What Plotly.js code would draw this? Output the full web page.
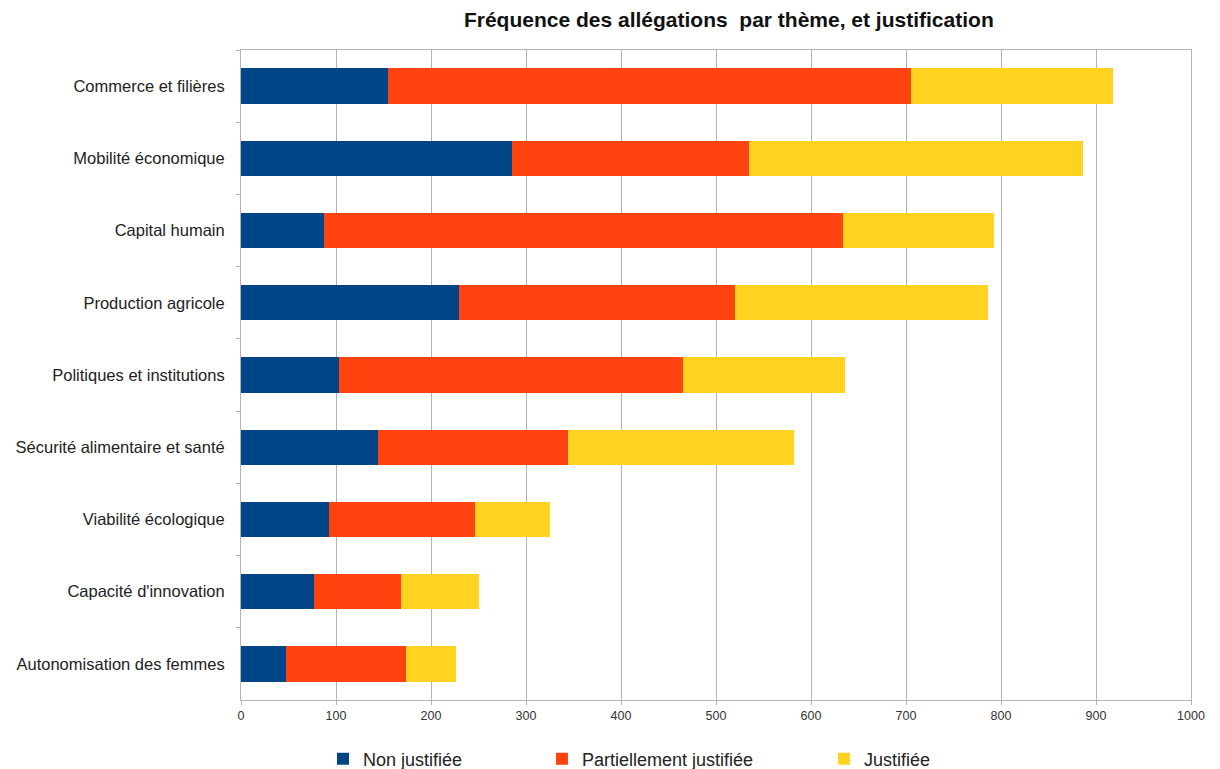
<!DOCTYPE html>
<html>
<head>
<meta charset="utf-8">
<script src="https://cdn.plot.ly/plotly-3.0.1.min.js"></script>
<style>html,body{margin:0;padding:0;background:#fff;}#chart{width:1220px;height:769px;}</style>
</head>
<body>
<div id="chart"></div>
<script>
const categories = [
  "Commerce et filières",
  "Mobilité économique",
  "Capital humain",
  "Production agricole",
  "Politiques et institutions",
  "Sécurité alimentaire et santé",
  "Viabilité écologique",
  "Capacité d'innovation",
  "Autonomisation des femmes"
];
const nonJustifiee = [155, 285, 87, 229, 103, 144, 93, 77, 47];
const partiellementJustifiee = [550, 250, 547, 291, 362, 200, 153, 91, 127];
const justifiee = [213, 351, 159, 266, 171, 238, 79, 82, 52];
const seriesNames = ["Non justifiée", "Partiellement justifiée", "Justifiée"];
const seriesColors = ["#004586", "#ff420e", "#ffd320"];
const xTicks = [0, 100, 200, 300, 400, 500, 600, 700, 800, 900, 1000];

const seriesValues = [nonJustifiee, partiellementJustifiee, justifiee];
const legendIds = ["legend", "legend2", "legend3"];
const traces = seriesValues.map((vals, i) => ({
  type: "bar",
  orientation: "h",
  name: seriesNames[i],
  x: vals,
  y: categories,
  marker: {color: seriesColors[i], line: {width: 0}},
  legend: legendIds[i],
  hoverinfo: "x+y+name"
}));

const FONT = "Liberation Sans, Arial, sans-serif";
const legendFont = {family: FONT, size: 18, color: "#222"};
const mkLegend = (x) => ({
  orientation: "h", x: x, xref: "paper", xanchor: "left",
  y: 10 / 769, yref: "container", yanchor: "middle",
  font: legendFont, bgcolor: "rgba(0,0,0,0)", borderwidth: 0,
  itemwidth: 30, itemclick: false, itemdoubleclick: false
});

const layout = {
  width: 1220, height: 769,
  margin: {l: 241, r: 29, t: 50, b: 69, autoexpand: false},
  paper_bgcolor: "#ffffff",
  plot_bgcolor: "#ffffff",
  barmode: "stack",
  bargap: 0.51,
  title: {
    text: "<b>Fréquence des allégations  par thème, et justification</b>",
    font: {family: FONT, size: 21, color: "#111"},
    x: 0.5135, xref: "paper", xanchor: "center",
    y: 1 - 20 / 769, yref: "container", yanchor: "middle"
  },
  xaxis: {
    range: [0, 1000],
    tickvals: xTicks,
    ticktext: xTicks.map(String),
    tickfont: {family: FONT, size: 12.5, color: "#333"},
    showgrid: true, gridcolor: "#b3b3b3", gridwidth: 1,
    showline: true, linecolor: "#b3b3b3", linewidth: 1, mirror: true,
    ticks: "outside", ticklen: 4, tickcolor: "#b3b3b3",
    zeroline: false, fixedrange: true
  },
  yaxis: {
    autorange: "reversed",
    type: "category",
    tickfont: {family: FONT, size: 16.5, color: "#222"},
    showgrid: false,
    showline: true, linecolor: "#b3b3b3", linewidth: 1, mirror: true,
    ticks: "outside", ticklen: 4, tickcolor: "#b3b3b3",
    tickson: "boundaries",
    ticklabelstandoff: 12,
    zeroline: false, fixedrange: true
  },
  legend: mkLegend(0.0863),
  legend2: mkLegend(0.3168),
  legend3: mkLegend(0.6137),
  showlegend: true
};

Plotly.newPlot("chart", traces, layout, {displayModeBar: false});
</script>
</body>
</html>
